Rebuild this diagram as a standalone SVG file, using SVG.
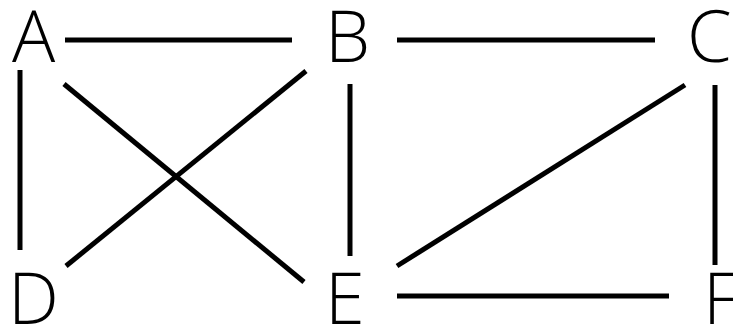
<svg xmlns="http://www.w3.org/2000/svg" width="733" height="326" viewBox="0 0 733 326">
<style>
.lbl{font-family:"Open Sans","Noto Sans",sans-serif;font-size:72px;font-weight:300;fill:#000}
.edge{stroke:#000;stroke-width:5;fill:none;stroke-linecap:butt}
</style>
<rect width="733" height="326" fill="#fff"/>
<g id="edges">
<line class="edge" x1="65" y1="40" x2="292" y2="40"/>
<line class="edge" x1="397" y1="40" x2="655" y2="40"/>
<line class="edge" x1="20" y1="70" x2="20" y2="250"/>
<line class="edge" x1="64" y1="84" x2="304" y2="282"/>
<line class="edge" x1="306" y1="71" x2="66" y2="266"/>
<line class="edge" x1="350" y1="84" x2="350" y2="256"/>
<line class="edge" x1="685" y1="85" x2="397" y2="266"/>
<line class="edge" x1="715" y1="85" x2="715" y2="265"/>
<line class="edge" x1="397" y1="296" x2="669" y2="296"/>
</g>
<g id="A"><text class="lbl" x="12" y="62">A</text></g>
<g id="B"><text class="lbl" x="325" y="62">B</text></g>
<g id="C"><text class="lbl" x="687" y="62">C</text></g>
<g id="D"><text class="lbl" x="8" y="324">D</text></g>
<g id="E"><text class="lbl" x="325" y="324">E</text></g>
<g id="F"><text class="lbl" x="703" y="324">F</text></g>
</svg>
